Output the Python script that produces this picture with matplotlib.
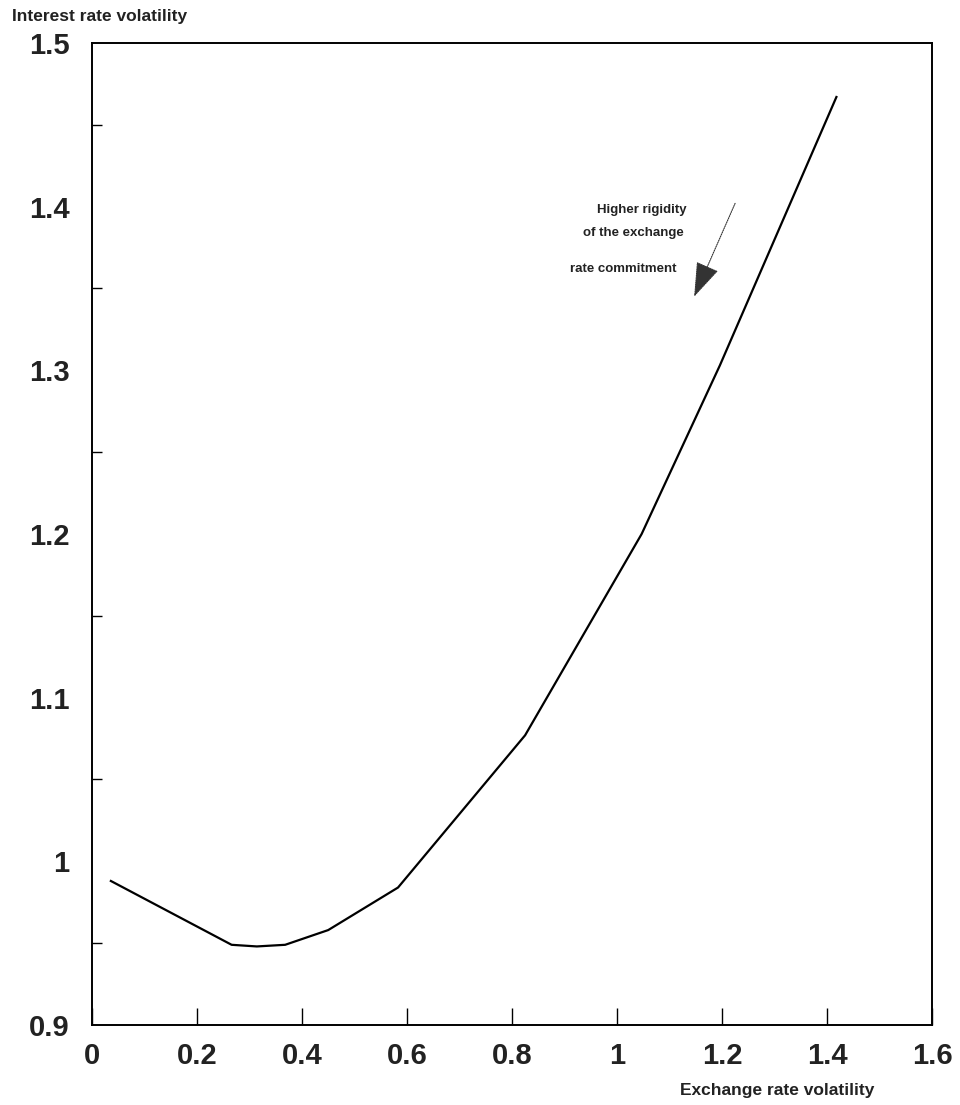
import numpy as np
import matplotlib
matplotlib.use("Agg")
import matplotlib.pyplot as plt

plt.rcParams['font.family'] = ['Liberation Sans', 'DejaVu Sans']

# curve
exch_vol = [0.036, 0.266, 0.314, 0.368, 0.450, 0.583, 0.825, 1.047, 1.196, 1.418]
int_vol = [0.988, 0.949, 0.948, 0.949, 0.958, 0.984, 1.077, 1.200, 1.303, 1.467]

x_ticks = [0, 0.2, 0.4, 0.6, 0.8, 1, 1.2, 1.4, 1.6]
x_tick_labels = ['0', '0.2', '0.4', '0.6', '0.8', '1', '1.2', '1.4', '1.6']
y_ticks = [0.9, 1.0, 1.1, 1.2, 1.3, 1.4, 1.5]
y_tick_labels = ['0.9', '1', '1.1', '1.2', '1.3', '1.4', '1.5']
y_minor = [0.95, 1.05, 1.15, 1.25, 1.35, 1.45]

note_lines = ['Higher rigidity', 'of the exchange', 'rate commitment']

fig = plt.figure(figsize=(9.6, 11.05), dpi=100)
ax = fig.add_axes([0.0958, 0.0724, 0.875, 0.8887])

ax.plot(exch_vol, int_vol, color='black', lw=1.6)

ax.set_xlim(0, 1.6)
ax.set_ylim(0.9, 1.5)

ax.set_xticks(x_ticks)
ax.set_xticklabels(x_tick_labels)
ax.set_yticks(y_ticks)
ax.set_yticklabels(y_tick_labels)
ax.set_yticks(y_minor, minor=True)

ax.tick_params(axis='x', direction='in', length=12, width=1.0, pad=12,
               labelsize=21, top=False)
ax.tick_params(axis='y', which='major', length=0, pad=16, labelsize=21)
ax.tick_params(axis='y', which='minor', direction='in', length=7, width=1.0)
for lab in ax.get_xticklabels() + ax.get_yticklabels():
    lab.set_color('#222222')
    lab.set_fontweight('bold')

for sp in ax.spines.values():
    sp.set_linewidth(1.4)

# axis titles placed like in the scan
fig.text(12 / 960, 1 - 17 / 1105, 'Interest rate volatility', fontsize=12.5,
         fontweight='bold', ha='left', va='center', color='#222222')
fig.text(777 / 960, 1 - 1090 / 1105, 'Exchange rate volatility', fontsize=12.5,
         fontweight='bold', ha='center', va='center', color='#222222')

# annotation
note_x = [1.133, 1.128, 1.114]
note_y = [1.398, 1.384, 1.362]
for t, nx, ny in zip(note_lines, note_x, note_y):
    ax.text(nx, ny, t, fontsize=9.5, fontweight='bold', ha='right', va='center',
            color='#222222')

ax.annotate('', xy=(1.147, 1.345), xytext=(1.225, 1.402),
            arrowprops=dict(arrowstyle='-|>,head_length=1.1,head_width=0.38',
                            mutation_scale=20, lw=0.8, linestyle=(0, (1, 1)),
                            color='#333333', shrinkA=0, shrinkB=0))

fig.savefig('out.png', dpi=100)
